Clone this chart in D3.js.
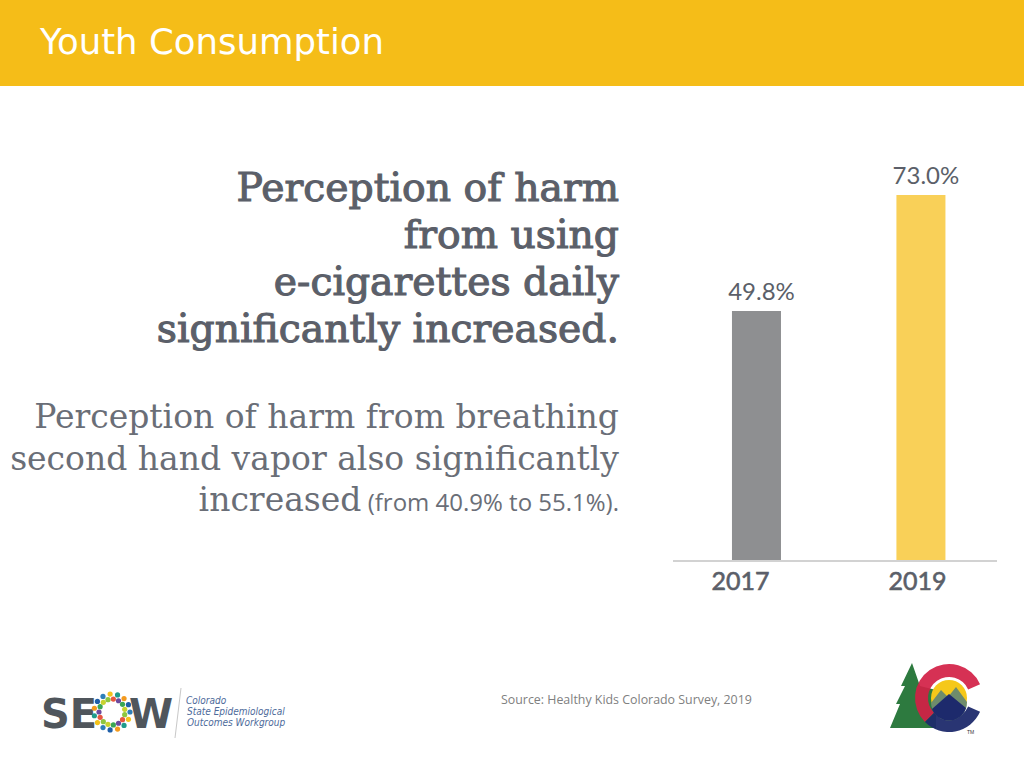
<!DOCTYPE html>
<html><head><meta charset="utf-8">
<script src="https://cdn.jsdelivr.net/npm/d3@7/dist/d3.min.js"></script>
<style>html,body{margin:0;padding:0;background:#fff;}svg{display:block;}</style>
</head><body>
<script>
const years = ["2017", "2019"];
const values = [49.8, 73.0];
const valueLabels = ["49.8%", "73.0%"];
const barColors = ["#8e8f91", "#f9d058"];
const headlineLines = ["Perception of harm", "from using", "e-cigarettes daily", "significantly increased."];
const subLines = ["Perception of harm from breathing", "second hand vapor also significantly"];
const subLast = ["increased", " (from 40.9% to 55.1%)."];
const title = "Youth Consumption";
const source = "Source: Healthy Kids Colorado Survey, 2019";

const W = 1024, H = 768;
const svg = d3.select("body").append("svg").attr("width", W).attr("height", H);

// header
svg.append("rect").attr("x",0).attr("y",0).attr("width",W).attr("height",86).attr("fill","#f5bd18");
svg.append("text").attr("x",40).attr("y",54).attr("fill","#fff")
  .style("font-family","'DejaVu Sans', sans-serif").style("font-size","35.5px").text(title);

// headline text
const hl = svg.append("g").attr("fill","#5b5f69").attr("stroke","#5b5f69").attr("stroke-width",1.1).attr("text-anchor","end")
  .style("font-family","'DejaVu Serif', serif").style("font-size","39.3px");
headlineLines.forEach((t,i)=>hl.append("text").attr("x",619).attr("y",201+i*47).text(t));

const sl = svg.append("g").attr("fill","#6a6e77").attr("text-anchor","end")
  .style("font-family","'DejaVu Serif', serif").style("font-size","33px");
subLines.forEach((t,i)=>sl.append("text").attr("x",619).attr("y",428+i*42).text(t));
const last = sl.append("text").attr("x",619).attr("y",511);
last.append("tspan").text(subLast[0]);
last.append("tspan").style("font-family","'Open Sans', sans-serif").style("font-size","24px").text(subLast[1]);

// chart
const x = d3.scaleBand().domain(years).range([674.4,1003]).paddingInner(0.702).paddingOuter(0.35);
const y = d3.scaleLinear().domain([0,100]).range([560,60]);
const xLab = d3.scalePoint().domain(years).range([740,917]);
const data = years.map((d,i)=>({year:d, v:values[i], label:valueLabels[i], c:barColors[i]}));

svg.append("g").selectAll("rect").data(data).join("rect")
  .attr("x",d=>x(d.year)).attr("width",x.bandwidth())
  .attr("y",d=>y(d.v)).attr("height",d=>y(0)-y(d.v)).attr("fill",d=>d.c);

svg.append("line").attr("x1",673).attr("x2",997).attr("y1",561).attr("y2",561)
  .attr("stroke","#d2d2d2").attr("stroke-width",2);

svg.append("g").selectAll("text").data(data).join("text")
  .attr("x",d=>x(d.year)+x.bandwidth()/2+5).attr("y",d=>y(d.v)-11)
  .attr("text-anchor","middle").attr("fill","#5b5f69")
  .style("font-family","Lato, sans-serif").style("font-size","24px").text(d=>d.label);

const xAxis = svg.append("g").attr("transform","translate(0,561)")
  .call(d3.axisBottom(xLab).tickSize(0).tickPadding(8));
xAxis.select(".domain").remove();
xAxis.selectAll("text").attr("fill","#5b5f69").attr("stroke","#5b5f69").attr("stroke-width",0.6).attr("dy","0.85em")
  .style("font-family","Lato, sans-serif").style("font-size","25px");

// source
svg.append("text").attr("x",501).attr("y",704).attr("fill","#808080")
  .style("font-family","'Open Sans', sans-serif").style("font-size","12.4px").text(source);

// SEOW logo
const lg = svg.append("g");
lg.append("text").attr("x",41).attr("y",728).attr("fill","#50565c")
  .style("font-family","'DejaVu Sans', sans-serif").style("font-weight","bold").style("font-size","40px").text("SE");
lg.append("text").attr("x",129).attr("y",728).attr("fill","#50565c")
  .style("font-family","'DejaVu Sans', sans-serif").style("font-weight","bold").style("font-size","40px").text("W");
const dotColors = ["#2e7fb8","#8dc63f","#f4c21b","#e8573f","#1f9b8b","#6c4a9e","#f39a1e","#3aa655","#1f5fa8","#c7d22f"];
for (let k=0;k<30;k++){
  const a = k/30*2*Math.PI;
  const r = (k%2? 13:18);
  lg.append("circle").attr("cx",112+r*Math.cos(a)).attr("cy",712+r*Math.sin(a)).attr("r",2.6)
    .attr("fill",dotColors[k%dotColors.length]);
}
lg.append("line").attr("x1",181).attr("y1",688).attr("x2",175).attr("y2",738).attr("stroke","#c8c8c8").attr("stroke-width",1);
const lt = lg.append("g").attr("fill","#4d6a9a").style("font-family","'DejaVu Sans Condensed', sans-serif").style("font-size","10px").style("font-style","italic");
["Colorado","State Epidemiological","Outcomes Workgroup"].forEach((t,i)=>lt.append("text").attr("x",186+(i?1:0)).attr("y",704+i*11).text(t));

// Colorado logo
const cg = svg.append("g");
cg.append("path").attr("d","M912,663 L901,686 L905,686 L896,704 L900,704 L890,728 L936,728 L936,690 L920,686 Z").attr("fill","#2d7a3f");
const arc = d3.arc();
const deg = Math.PI/180;
cg.append("path").attr("transform","translate(949,698)").attr("opacity",0.92)
  .attr("d",arc({innerRadius:21,outerRadius:34,startAngle:-135*deg,endAngle:66*deg})).attr("fill","#d31f45");
cg.append("path").attr("transform","translate(949,698)").attr("opacity",0.95)
  .attr("d",arc({innerRadius:21,outerRadius:34,startAngle:114*deg,endAngle:225*deg})).attr("fill","#1d2a6c");
cg.append("circle").attr("cx",949).attr("cy",698).attr("r",18).attr("fill","#f5c81a");
cg.append("path").attr("d","M931,703 L941,690 L948,697 L956,687 L967,702 A18,18 0 0 1 931,703 Z").attr("fill","#6e8c6c");
cg.append("path").attr("d","M932,709 L949,694 L966,708 A18,18 0 0 1 932,709 Z").attr("fill","#1d2a6c");
cg.append("text").attr("x",967).attr("y",734).attr("fill","#333").style("font-family","sans-serif").style("font-size","5px").text("TM");
</script>
</body></html>
